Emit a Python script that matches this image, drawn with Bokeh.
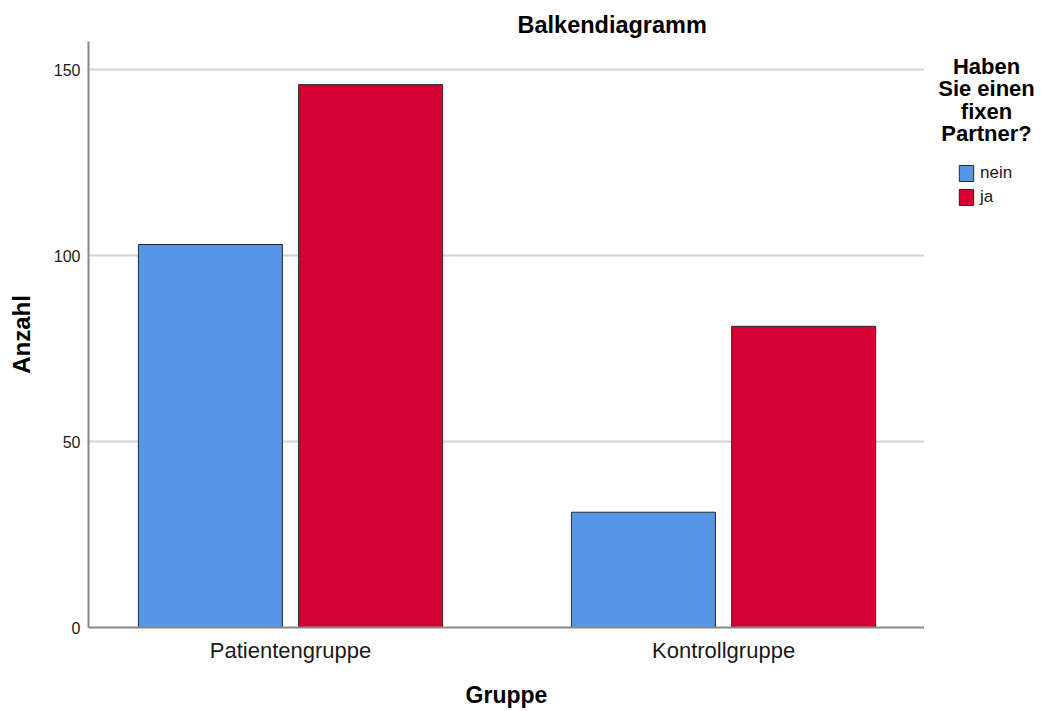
from bokeh.plotting import figure
from bokeh.layouts import row
from bokeh.models import (ColumnDataSource, Range1d, FixedTicker, Legend, LegendItem, Label)
from bokeh.transform import dodge
from bokeh.embed import file_html
from bokeh.resources import INLINE

# ---- data ----
groups = ["Patientengruppe", "Kontrollgruppe"]
series = ["nein", "ja"]
nein = [103, 31]
ja = [146, 81]
y_ticks = [0, 50, 100, 150]
title_text = "Balkendiagramm"
x_title = "Gruppe"
y_title = "Anzahl"
legend_title = ["Haben", "Sie einen", "fixen", "Partner?"]

FONT = "Liberation Sans"
BLUE = "#5596E6"
RED = "#D50032"
OUTLINE = "#2a2a2a"
H = 710
W1 = 924
W2 = 114

xpos = [i + 0.5 for i in range(len(groups))]
src = ColumnDataSource(dict(x=xpos, nein=nein, ja=ja))

p = figure(width=W1, height=H, output_backend="svg", toolbar_location=None,
           x_range=Range1d(0.0335, 1.964), y_range=Range1d(0, 157.6),
           min_border_left=88, min_border_right=0, min_border_top=41, min_border_bottom=10)
p.outline_line_color = None
p.background_fill_color = "white"
p.border_fill_color = "white"

# title
p.title.text = title_text
p.title.text_font = FONT
p.title.text_font_size = "23.5px"
p.title.text_font_style = "bold"
p.title.text_color = "#000000"
p.title.align = "left"
p.title.offset = 429
p.title.standoff = 7

bw = 0.3326
p.vbar(x=dodge("x", -0.185, range=p.x_range), top="nein", width=bw, source=src,
       fill_color=BLUE, line_color=OUTLINE, line_width=1)
p.vbar(x=dodge("x", 0.185, range=p.x_range), top="ja", width=bw, source=src,
       fill_color=RED, line_color=OUTLINE, line_width=1)

# axes
xa = p.xaxis[0]
xa.ticker = FixedTicker(ticks=xpos)
xa.major_label_overrides = {x: g for x, g in zip(xpos, groups)}
xa.axis_label = x_title
ya = p.yaxis[0]
ya.ticker = FixedTicker(ticks=y_ticks)
ya.axis_label = y_title
for ax in (xa, ya):
    ax.axis_line_color = "#888888"
    ax.axis_line_width = 2
    ax.major_tick_line_color = None
    ax.minor_tick_line_color = None
    ax.major_tick_out = 0
    ax.major_tick_in = 0
    ax.axis_label_text_font = FONT
    ax.axis_label_text_font_style = "bold"
    ax.axis_label_text_color = "#000000"
    ax.major_label_text_font = FONT
    ax.major_label_text_color = "#1a1a1a"
xa.major_label_text_font_size = "22px"
xa.axis_label_text_font_size = "23px"
xa.major_label_standoff = 10
xa.axis_label_standoff = 16
ya.major_label_text_font_size = "16px"
ya.axis_label_text_font_size = "24px"
ya.major_label_standoff = 8
ya.axis_label_standoff = 16

p.xgrid.grid_line_color = None
p.ygrid.grid_line_color = "#d4d4d4"
p.ygrid.grid_line_width = 2

# ---- legend panel (separate narrow figure; its frame is aligned with the main frame) ----
# its ranges lie far away from the data, so the swatch renderers draw nothing inside it
p2 = figure(width=W2, height=H, output_backend="svg", toolbar_location=None,
            x_range=Range1d(-10000, -9998), y_range=Range1d(-10000, -9842),
            x_axis_type=None, y_axis_type=None,
            min_border_left=0, min_border_right=0, min_border_top=41, min_border_bottom=10)
p2.outline_line_color = None
p2.grid.visible = False
p2.background_fill_color = "white"
p2.border_fill_color = "white"

g1 = p2.vbar(x="x", top="nein", width=0.001, source=src,
             fill_color=BLUE, line_color=OUTLINE, line_width=1)
g2 = p2.vbar(x="x", top="ja", width=0.001, source=src,
             fill_color=RED, line_color=OUTLINE, line_width=1)
legend = Legend(items=[LegendItem(label=series[0], renderers=[g1]),
                       LegendItem(label=series[1], renderers=[g2])],
                location=(33, 420), orientation="vertical",
                glyph_width=18, glyph_height=20, label_standoff=5, spacing=4,
                padding=0, margin=0, border_line_color=None, background_fill_alpha=0,
                label_text_font=FONT, label_text_font_size="17px", label_text_color="#1a1a1a",
                label_height=20)
p2.add_layout(legend, "center")

baselines_from_bottom = [561, 538.7, 516.3, 494]
for line, yb in zip(legend_title, baselines_from_bottom):
    p2.add_layout(Label(x=62, y=yb, x_units="screen", y_units="screen",
                        text=line, text_align="center", text_baseline="alphabetic",
                        text_font=FONT, text_font_size="22px", text_font_style="bold",
                        text_color="#000000"))

layout = row(p, p2)
open("out.html", "w").write(file_html(layout, INLINE))
